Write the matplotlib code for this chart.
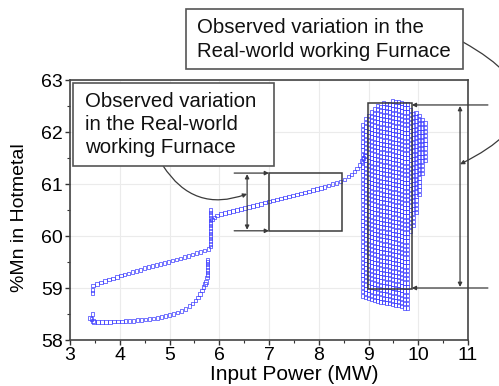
import numpy as np
import matplotlib
matplotlib.use("Agg")
import matplotlib.pyplot as plt
from matplotlib.patches import Rectangle

plt.rcParams['font.family'] = ['Liberation Sans', 'DejaVu Sans']

# ---------------- data ----------------
upper_x = [3.45, 3.45, 3.46, 3.54, 3.62, 3.70, 3.78, 3.86, 3.94, 4.02, 4.10, 4.18, 4.26, 4.34,
           4.42, 4.50, 4.58, 4.66, 4.74, 4.82, 4.90, 4.98, 5.06, 5.14, 5.22, 5.30, 5.38,
           5.46, 5.54, 5.62, 5.70, 5.78]
upper_y = [58.90, 58.96, 59.05, 59.08, 59.11, 59.13, 59.16, 59.18, 59.21, 59.24, 59.26, 59.28,
           59.31, 59.33, 59.35, 59.38, 59.40, 59.42, 59.44, 59.46, 59.48, 59.50, 59.53,
           59.55, 59.57, 59.60, 59.62, 59.64, 59.67, 59.69, 59.72, 59.75]

jump_x = [5.82] * 15
jump_y = [59.80, 59.85, 59.90, 59.95, 60.00, 60.05, 60.10, 60.15, 60.20, 60.25, 60.30,
          60.35, 60.40, 60.45, 60.50]

middle_x = [5.85, 5.90, 5.96, 6.04, 6.12, 6.20, 6.28, 6.36, 6.44, 6.52, 6.60, 6.68, 6.76,
            6.84, 6.92, 7.00, 7.08, 7.16, 7.24, 7.32, 7.40, 7.48, 7.56, 7.64, 7.72, 7.80,
            7.88, 7.96, 8.04, 8.12, 8.20, 8.28, 8.36, 8.44, 8.52, 8.60, 8.66, 8.72, 8.77,
            8.82, 8.86, 8.90, 8.93]
middle_y = [60.32, 60.36, 60.39, 60.42, 60.44, 60.46, 60.48, 60.50, 60.52, 60.54, 60.56,
            60.58, 60.60, 60.62, 60.64, 60.66, 60.68, 60.70, 60.72, 60.74, 60.76, 60.78,
            60.80, 60.82, 60.84, 60.86, 60.88, 60.90, 60.92, 60.94, 60.97, 61.00, 61.02,
            61.05, 61.09, 61.14, 61.18, 61.24, 61.30, 61.37, 61.44, 61.50, 61.56]

lower_x = [3.40, 3.43, 3.45, 3.46, 3.48, 3.56, 3.64, 3.72, 3.80, 3.88, 3.96, 4.04, 4.12,
           4.20, 4.28, 4.36, 4.44, 4.52, 4.60, 4.68, 4.76, 4.84, 4.92, 5.00, 5.08, 5.16,
           5.24, 5.32, 5.40, 5.46, 5.52, 5.57, 5.61, 5.65, 5.68, 5.71, 5.73, 5.75,
           5.76, 5.76, 5.76, 5.76, 5.76, 5.76, 5.76]
lower_y = [58.42, 58.40, 58.50, 58.37, 58.35, 58.35, 58.35, 58.35, 58.35, 58.36, 58.36,
           58.36, 58.37, 58.37, 58.37, 58.38, 58.38, 58.39, 58.40, 58.41, 58.42, 58.44,
           58.46, 58.48, 58.50, 58.53, 58.56, 58.60, 58.65, 58.70, 58.76, 58.82, 58.88,
           58.95, 59.02, 59.08, 59.12, 59.20, 59.25, 59.30, 59.35, 59.40, 59.45, 59.50, 59.54]

# dense region: column positions with lower / upper extent
cluster_col_x = [8.88, 8.94, 9.00, 9.06, 9.12, 9.18, 9.24, 9.30, 9.36, 9.42, 9.48, 9.54,
                 9.60, 9.66, 9.72, 9.78, 9.84, 9.90, 9.96, 10.02, 10.08, 10.14]
cluster_col_lo = [58.85, 58.82, 58.80, 58.78, 58.76, 58.75, 58.73, 58.72, 58.71, 58.70,
                  58.68, 58.67, 58.66, 58.64, 58.62, 58.62, 60.10, 60.20, 60.45, 60.80,
                  61.20, 61.45]
cluster_col_hi = [62.20, 62.30, 62.38, 62.44, 62.48, 62.52, 62.55, 62.57, 62.59, 62.60,
                  62.61, 62.61, 62.61, 62.60, 62.60, 62.58, 62.45, 62.42, 62.40, 62.38,
                  62.30, 62.20]
cluster_step = 0.08

x_ticks = [3, 4, 5, 6, 7, 8, 9, 10, 11]
y_ticks = [58, 59, 60, 61, 62, 63]

box_text_top = "Observed variation in the\nReal-world working Furnace"
box_text_left = "Observed variation\nin the Real-world\nworking Furnace"

# ---------------- figure ----------------
W, H = 499, 386
fig = plt.figure(figsize=(W / 100, H / 100), dpi=100)
ax = fig.add_axes([70 / W, 1 - 340 / H, 398 / W, 260 / H])

blue = '#3c3cff'
mk = dict(marker='s', s=6.5, facecolors='none', edgecolors=blue, linewidths=0.5, zorder=3)

ax.scatter(upper_x, upper_y, **mk)
ax.scatter(jump_x, jump_y, **mk)
ax.scatter(middle_x, middle_y, **mk)
ax.scatter(lower_x, lower_y, **mk)

cx, cy = [], []
for xc, lo, hi in zip(cluster_col_x, cluster_col_lo, cluster_col_hi):
    ys = np.arange(lo, hi + 1e-9, cluster_step)
    cx.extend([xc] * len(ys))
    cy.extend(ys)
ax.scatter(cx, cy, **mk)

ax.set_xlim(3, 11)
ax.set_ylim(58, 63)
ax.set_xticks(x_ticks)
ax.set_yticks(y_ticks)
ax.set_xticks(np.array(x_ticks[:-1]) + 0.5, minor=True)
ax.set_yticks(np.array(y_ticks[:-1]) + 0.5, minor=True)
ax.tick_params(axis='both', which='major', direction='out', length=3.5, width=1,
               labelsize=14, pad=1.5, color='#333333')
ax.tick_params(axis='both', which='minor', direction='out', length=2, width=0.8,
               color='#333333')
ax.tick_params(top=False, right=False)
for sp in ax.spines.values():
    sp.set_color('#444444')
    sp.set_linewidth(1.2)
ax.grid(True, which='major', color='#ebebeb', linewidth=0.8, zorder=0)
ax.set_axisbelow(True)

ax.set_xlabel('Input Power (MW)', fontsize=15)
ax.set_ylabel('%Mn in Hotmetal', fontsize=14)
ax.xaxis.set_label_coords(0.564, -0.095)
ax.yaxis.set_label_coords(-0.105, 0.47)

lc = '#3a3a3a'
# rectangles
ax.add_patch(Rectangle((7.0, 60.10), 1.47, 1.11, fill=False, edgecolor=lc, lw=1.1, zorder=4))
ax.add_patch(Rectangle((8.99, 58.98), 0.88, 3.58, fill=False, edgecolor=lc, lw=1.1, zorder=4))

arr = dict(arrowstyle='-|>', color=lc, lw=0.9, mutation_scale=6, shrinkA=0, shrinkB=0)
dbl = dict(arrowstyle='<|-|>', color=lc, lw=0.9, mutation_scale=6, shrinkA=0, shrinkB=0)

# middle annotation arrows
ax.annotate('', xy=(7.0, 61.21), xytext=(6.30, 61.21), arrowprops=arr, zorder=4)
ax.annotate('', xy=(7.0, 60.10), xytext=(6.30, 60.10), arrowprops=arr, zorder=4)
ax.annotate('', xy=(6.56, 60.12), xytext=(6.56, 61.19), arrowprops=dbl, zorder=4)

# right annotation arrows
ax.annotate('', xy=(9.87, 62.52), xytext=(11.40, 62.52), arrowprops=arr,
            annotation_clip=False, zorder=4)
ax.annotate('', xy=(9.87, 59.0), xytext=(11.40, 59.0), arrowprops=arr,
            annotation_clip=False, zorder=4)
ax.annotate('', xy=(10.84, 59.02), xytext=(10.84, 62.50), arrowprops=dbl,
            annotation_clip=False, zorder=4)

# curved connectors
ax.annotate('', xy=(6.56, 60.81), xytext=(4.87, 61.35),
            arrowprops=dict(arrowstyle='-|>', color=lc, lw=0.9, mutation_scale=6,
                            shrinkA=0, shrinkB=0, connectionstyle='arc3,rad=0.4'),
            annotation_clip=False, zorder=4)
ax.annotate('', xy=(10.84, 61.38), xytext=(10.90, 63.73),
            arrowprops=dict(arrowstyle='-|>', color=lc, lw=0.9, mutation_scale=6,
                            shrinkA=0, shrinkB=0, connectionstyle='arc3,rad=-0.95'),
            annotation_clip=False, zorder=4)

# text boxes (figure pixel coordinates)
def fig_box(x0, y0, x1, y1):
    r = Rectangle((x0 / W, 1 - y1 / H), (x1 - x0) / W, (y1 - y0) / H,
                  transform=fig.transFigure, facecolor='white', edgecolor='#555555',
                  lw=1.2, zorder=5)
    fig.add_artist(r)

fig_box(186, 9, 463, 69)
for i, line in enumerate(box_text_top.split('\n')):
    fig.text(197 / W, 1 - (33.3 + 23.4 * i) / H, line, fontsize=14.7, va='baseline',
             ha='left', color='#111111', zorder=6)

fig_box(73, 83, 274, 166)
for i, line in enumerate(box_text_left.split('\n')):
    fig.text(85 / W, 1 - (107.3 + 22.7 * i) / H, line, fontsize=14.7, va='baseline',
             ha='left', color='#111111', zorder=6)

fig.savefig('out.png', dpi=100)
